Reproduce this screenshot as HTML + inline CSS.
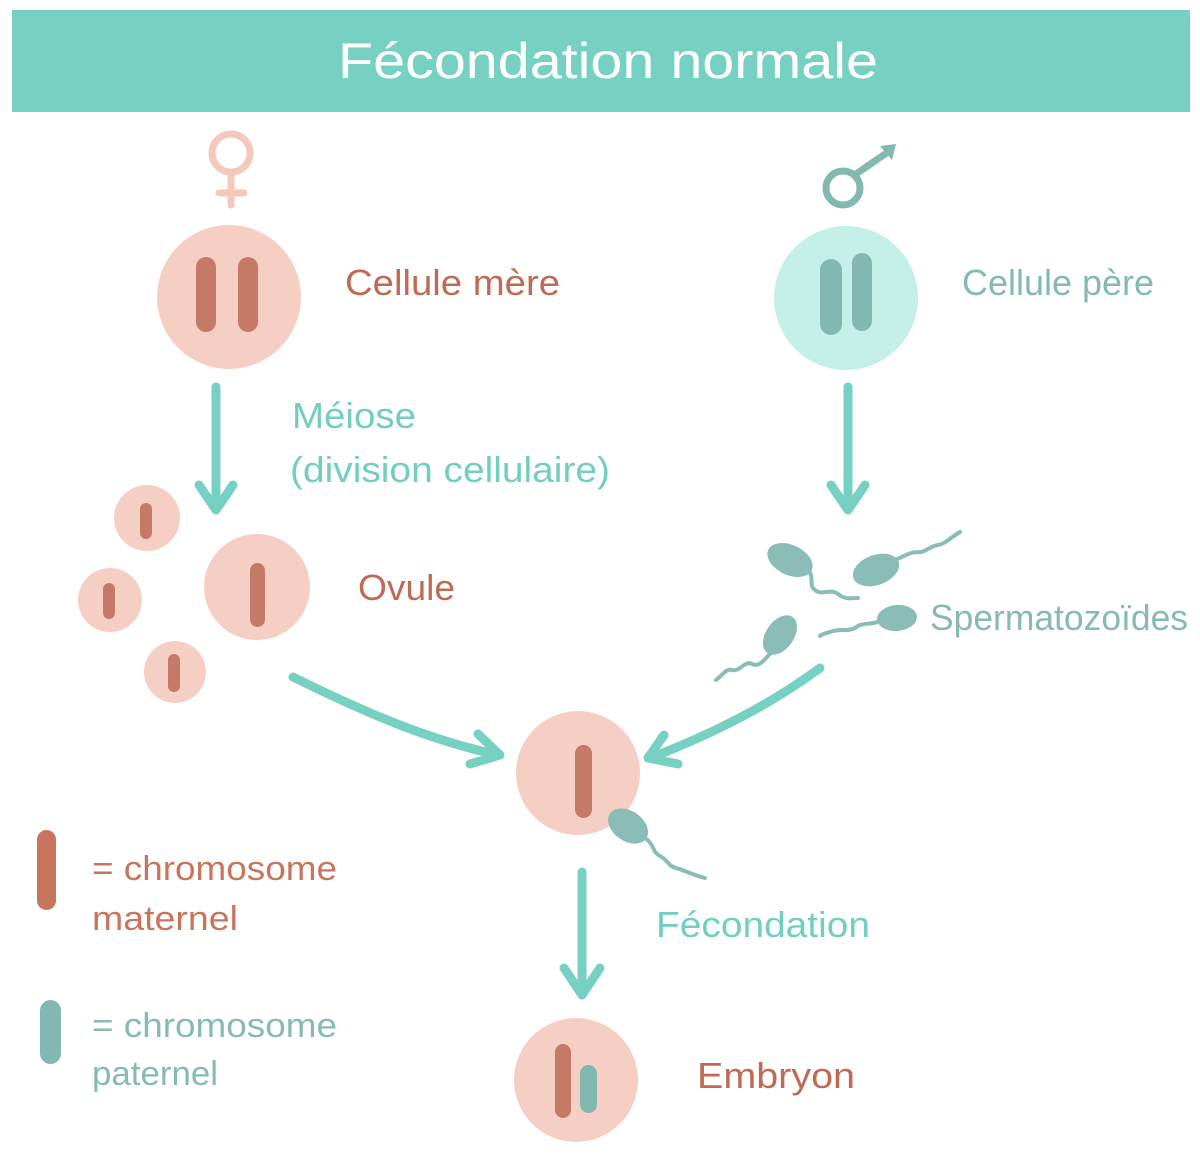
<!DOCTYPE html>
<html><head><meta charset="utf-8"><style>
html,body{margin:0;padding:0;background:#fff;}
svg{display:block;}
text{font-family:"Liberation Sans","DejaVu Sans",sans-serif;}
</style></head><body>
<svg width="1200" height="1163" viewBox="0 0 1200 1163" xmlns="http://www.w3.org/2000/svg">
<rect x="0" y="0" width="1200" height="1163" fill="#ffffff"/>
<!-- banner -->
<rect x="12" y="10" width="1178" height="102" fill="#76d1c2"/>
<text x="338" y="78" font-size="50" fill="#ffffff" textLength="540" lengthAdjust="spacingAndGlyphs">Fécondation normale</text>

<!-- female symbol -->
<g stroke="#f4c9bc" stroke-width="7" fill="none" stroke-linecap="round">
<circle cx="231" cy="153" r="19"/>
<line x1="231" y1="174" x2="231" y2="205"/>
<line x1="219" y1="193" x2="244" y2="193"/>
</g>

<!-- mother cell -->
<circle cx="229" cy="297" r="72" fill="#f6cfc4"/>
<rect x="196" y="257" width="20" height="75" rx="10" fill="#c57967"/>
<rect x="238" y="257" width="20" height="75" rx="10" fill="#c57967"/>
<text x="345" y="295" font-size="36" fill="#c06a56" textLength="215" lengthAdjust="spacingAndGlyphs">Cellule mère</text>

<!-- male symbol -->
<g stroke="#84b9b1" stroke-width="7" fill="none" stroke-linecap="round">
<circle cx="843" cy="188" r="17"/>
<line x1="856" y1="174" x2="888" y2="152"/>
</g>
<polygon points="880,146 896,144 892,160" fill="#84b9b1"/>

<!-- father cell -->
<circle cx="846" cy="298" r="72" fill="#c4f0e8"/>
<rect x="820" y="259" width="22" height="76" rx="11" fill="#82b8b0"/>
<rect x="852" y="253" width="20" height="78" rx="10" fill="#82b8b0"/>
<text x="962" y="295" font-size="36" fill="#85bab2" textLength="192" lengthAdjust="spacingAndGlyphs">Cellule père</text>

<!-- vertical arrows -->
<g stroke="#76d1c2" stroke-width="9" fill="none" stroke-linecap="round" stroke-linejoin="round">
<line x1="216" y1="387" x2="216" y2="508"/>
<polyline points="199,485 216,510 233,485"/>
<line x1="848" y1="387" x2="848" y2="508"/>
<polyline points="831,485 848,510 865,485"/>
<line x1="582" y1="872" x2="582" y2="993"/>
<polyline points="564,968 582,995 600,968"/>
<path d="M293,677 C370,715 430,740 498,755"/>
<polyline points="478,734 500,755 470,764"/>
<path d="M820,668 C770,705 710,735 650,758"/>
<polyline points="664,735 648,758 678,764"/>
</g>

<text x="292" y="428" font-size="36" fill="#72cfbf" textLength="124" lengthAdjust="spacingAndGlyphs">Méiose</text>
<text x="290" y="482" font-size="36" fill="#72cfbf" textLength="320" lengthAdjust="spacingAndGlyphs">(division cellulaire)</text>

<!-- ovule cluster -->
<g fill="#f6cfc4">
<circle cx="147" cy="518" r="33"/>
<circle cx="110" cy="600" r="32"/>
<circle cx="175" cy="672" r="31"/>
<circle cx="257" cy="587" r="53"/>
</g>
<g fill="#c57967">
<rect x="140" y="503" width="12" height="36" rx="6"/>
<rect x="103" y="583" width="12" height="36" rx="6"/>
<rect x="168" y="654" width="12" height="38" rx="6"/>
<rect x="250" y="563" width="15" height="64" rx="7.5"/>
</g>
<text x="358" y="600" font-size="36" fill="#c06a56" textLength="97" lengthAdjust="spacingAndGlyphs">Ovule</text>

<!-- spermatozoa -->
<g fill="#89bdb5">
<ellipse cx="790" cy="560" rx="24" ry="15" transform="rotate(25 790 560)"/>
<ellipse cx="876" cy="570" rx="24" ry="15" transform="rotate(-20 876 570)"/>
<ellipse cx="780" cy="635" rx="14" ry="22" transform="rotate(35 780 635)"/>
<ellipse cx="897" cy="618" rx="20" ry="13" transform="rotate(-5 897 618)"/>
<ellipse cx="628" cy="826" rx="22" ry="15" transform="rotate(35 628 826)"/>
</g>
<g stroke="#89bdb5" stroke-width="4" fill="none" stroke-linecap="round">
<path d="M808,570 C815,578 808,585 815,590 C822,596 830,588 838,594 C845,600 852,598 858,598"/>
<path d="M895,560 C905,556 910,552 918,552 C925,553 930,546 938,545 C945,544 950,538 960,532"/>
<path d="M772,652 C765,658 760,668 752,664 C745,660 740,672 732,670 C726,668 722,676 716,680"/>
<path d="M877,622 C870,625 862,622 855,628 C848,632 840,628 830,632 C826,633 822,634 820,636"/>
<path d="M645,838 C655,845 652,852 660,856 C668,860 668,866 676,868 C684,870 690,874 705,878"/>
</g>
<text x="930" y="630" font-size="36" fill="#86bab2" textLength="258" lengthAdjust="spacingAndGlyphs">Spermatozoïdes</text>

<!-- zygote -->
<circle cx="578" cy="773" r="62" fill="#f6cfc4"/>
<rect x="575" y="745" width="17" height="73" rx="8.5" fill="#c57967"/>
<ellipse cx="628" cy="826" rx="22" ry="15" transform="rotate(35 628 826)" fill="#89bdb5"/>

<text x="656" y="937" font-size="36" fill="#72cfbf" textLength="214" lengthAdjust="spacingAndGlyphs">Fécondation</text>

<!-- embryo -->
<circle cx="576" cy="1080" r="62" fill="#f6cfc4"/>
<rect x="555" y="1044" width="16" height="74" rx="8" fill="#c57967"/>
<rect x="580" y="1065" width="17" height="48" rx="8.5" fill="#80b7af"/>
<text x="697" y="1088" font-size="36" fill="#c06a56" textLength="158" lengthAdjust="spacingAndGlyphs">Embryon</text>

<!-- legend -->
<rect x="37" y="830" width="19" height="80" rx="9.5" fill="#c8755e"/>
<text x="92" y="880" font-size="34" fill="#c8755e" textLength="245" lengthAdjust="spacingAndGlyphs">= chromosome</text>
<text x="92" y="930" font-size="34" fill="#c8755e" textLength="146" lengthAdjust="spacingAndGlyphs">maternel</text>
<rect x="40" y="1000" width="21" height="64" rx="10.5" fill="#82b8b0"/>
<text x="92" y="1037" font-size="34" fill="#86bab2" textLength="245" lengthAdjust="spacingAndGlyphs">= chromosome</text>
<text x="92" y="1085" font-size="34" fill="#86bab2" textLength="126" lengthAdjust="spacingAndGlyphs">paternel</text>
</svg>
</body></html>
